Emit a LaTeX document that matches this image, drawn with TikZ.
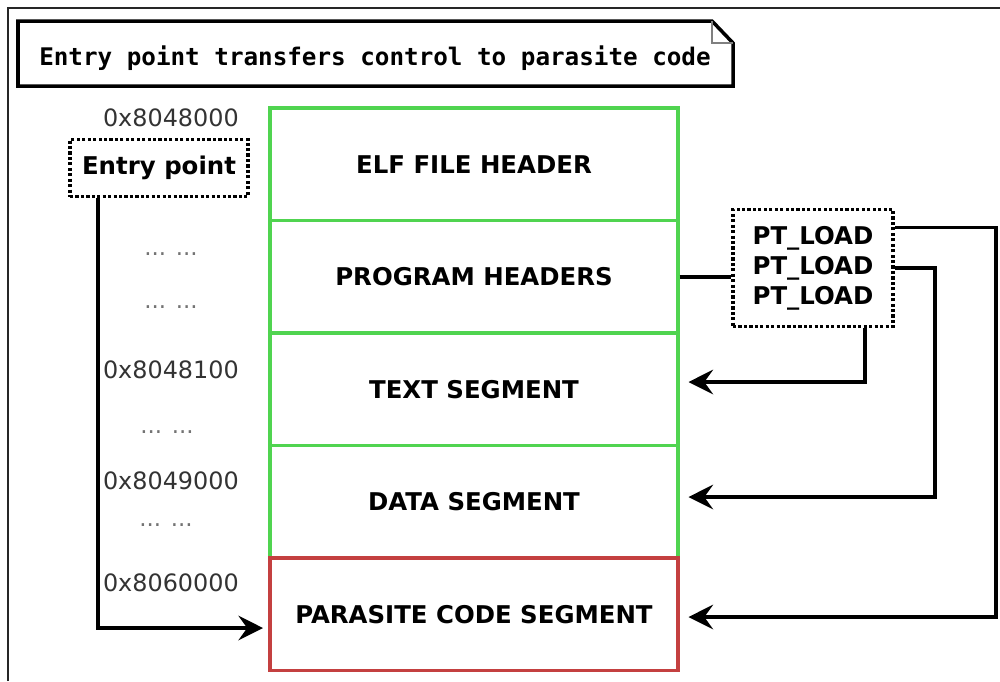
\documentclass[tikz,border=0pt]{standalone}
\usepackage{fontspec}
\setmainfont{DejaVu Sans}
\newfontfamily\notefont{DejaVu Sans Mono}
\usepackage{tikz}
\usetikzlibrary{arrows.meta}
\usetikzlibrary{calc}

\definecolor{seggreen}{RGB}{80,212,80}
\definecolor{segred}{RGB}{196,64,64}

\begin{document}
\begin{tikzpicture}[x=0.02cm, y=-0.02cm,
    seg/.style={draw=seggreen, line width=2pt, minimum width=8.16cm, minimum height=2.25cm, font=\fontsize{13.9}{17}\selectfont\bfseries},
    addr/.style={anchor=east, text=black!80, font=\fontsize{13.6}{16}\selectfont},
    gap/.style={text=black!55, font=\fontsize{13}{16}\selectfont},
    dotbox/.style={draw, line width=2.2pt, dash pattern=on 1.8pt off 1.3pt, font=\fontsize{13.9}{17}\selectfont\bfseries},
    link/.style={line width=2pt, -{Stealth[length=14pt, width=14pt, inset=5pt]}, shorten >=5pt},
    wire/.style={line width=2pt}]
\useasboundingbox (0,0) rectangle (1000,681);
\draw[black!85, line width=1.4pt] (8,681) -- (8,8) -- (1000,8);

\draw[line width=2pt, fill=white] (18,21) -- (712,21) -- (733,43) -- (733,86) -- (18,86) -- cycle;
\draw[line width=1.3pt, black!50] (712,21) -- (712,43) -- (733,43);
\node[anchor=base, font=\notefont\fontsize{13.8}{16}\selectfont\bfseries] (note) at (375,65) {Entry point transfers control to parasite code};

\node[seg] (elfhdr) at (474,164.25) {ELF FILE HEADER};
\node[seg] (phdrs) at (474,276.75) {PROGRAM HEADERS};
\node[seg] (textseg) at (474,389.25) {TEXT SEGMENT};
\node[seg] (dataseg) at (474,501.75) {DATA SEGMENT};
\node[seg, draw=segred] (parseg) at (474,614.25) {PARASITE CODE SEGMENT};

\node[addr] (a8048000) at (245,118) {0x8048000};
\node[addr] (a8048100) at (245,370) {0x8048100};
\node[addr] (a8049000) at (245,481) {0x8049000};
\node[addr] (a8060000) at (245,583) {0x8060000};
\node[gap] (gapa) at (171,254) {... ...};
\node[gap] (gapb) at (171,307) {... ...};
\node[gap] (gapc) at (167,432) {... ...};
\node[gap] (gapd) at (166,525) {... ...};

\node[dotbox, minimum width=3.56cm, minimum height=1.14cm] (entry) at (159,168) {Entry point};
\node[dotbox, minimum width=3.2cm, minimum height=2.34cm, align=center] (ptload) at (813,268) {PT\_LOAD\\PT\_LOAD\\PT\_LOAD};

\coordinate (tcorner) at (865,382);
\coordinate (dcorner) at (935,497);
\coordinate (pcorner) at (996,617);
\coordinate (ecorner) at (98,628);

\draw[wire] (phdrs.east) -- (phdrs.east -| ptload.west);
\draw[link] (ptload.south -| tcorner) -- (tcorner) -- (textseg.east |- tcorner);
\draw[link] (ptload.east) -| (dcorner) -- (dataseg.east |- dcorner);
\draw[link] ($(ptload.north east)+(0,20)$) -| (pcorner) -- (parseg.east |- pcorner);
\draw[link, shorten >=3pt] (entry.south -| ecorner) -- (ecorner) -- (parseg.west |- ecorner);
\end{tikzpicture}
\end{document}
